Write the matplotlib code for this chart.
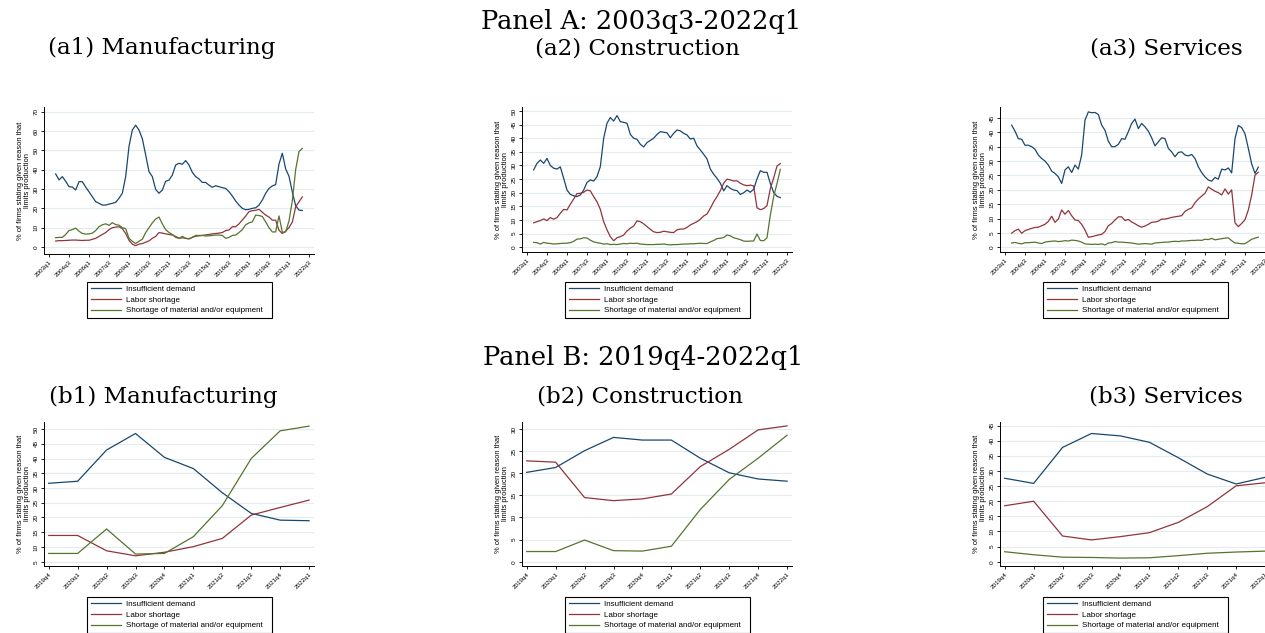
import matplotlib
matplotlib.use("Agg")
import matplotlib.pyplot as plt

# ---------------------------------------------------------------------------
# Quarterly shares of firms (%) citing each factor limiting production,
# 2003q3 - 2022q1 (75 quarters).
# ---------------------------------------------------------------------------
mfg_demand = [37.8, 34.7, 36.4, 34.0, 31.2, 31.0, 29.5, 33.8, 33.8, 31.0,
              28.6, 26.0, 23.5, 22.6, 21.7, 21.7, 22.2, 22.6, 23.1, 25.2,
              27.8, 36.4, 52.0, 60.5, 63.0, 60.5, 56.0, 47.6, 39.0, 36.4,
              29.8, 27.8, 29.5, 34.0, 34.6, 37.2, 42.4, 43.3, 42.8, 44.7,
              42.4, 38.6, 36.4, 35.2, 33.4, 33.4, 32.0, 30.9, 31.7, 31.2,
              30.7, 30.3, 28.6, 26.4, 23.8, 21.7, 20.0, 19.3, 19.5, 20.0,
              20.3, 21.7, 24.3, 27.8, 30.3, 31.6, 32.3, 42.9, 48.5, 40.4,
              36.6, 28.4, 21.4, 19.1, 18.9]
mfg_labor = [3.1, 3.3, 3.3, 3.4, 3.5, 3.6, 3.6, 3.5, 3.4, 3.5,
             3.5, 4.0, 4.5, 5.5, 6.5, 7.5, 9.0, 10.0, 10.3, 10.5,
             9.5, 7.0, 3.5, 1.5, 0.7, 1.5, 1.8, 2.5, 3.2, 4.5,
             5.5, 7.5, 7.2, 6.8, 6.5, 6.2, 5.5, 4.5, 4.8, 4.5,
             4.3, 5.0, 5.6, 5.8, 6.0, 6.3, 6.5, 6.8, 7.0, 7.2,
             7.5, 8.5, 8.8, 10.5, 10.5, 12.0, 14.0, 16.0, 18.3, 18.8,
             19.0, 19.5, 18.0, 16.5, 15.5, 13.9, 13.9, 8.7, 7.0, 8.2,
             10.1, 12.9, 20.8, 23.4, 25.9]
mfg_material = [4.8, 5.0, 5.0, 6.5, 8.5, 9.0, 9.8, 8.2, 7.0, 6.7,
                6.8, 7.2, 8.5, 10.5, 11.5, 12.0, 11.2, 12.6, 11.6, 11.3,
                10.0, 9.5, 4.5, 3.0, 1.8, 3.0, 4.0, 7.5, 10.0, 12.5,
                14.5, 15.5, 12.0, 9.0, 7.5, 6.5, 5.0, 4.5, 5.5, 4.5,
                4.2, 5.0, 6.0, 6.0, 6.0, 5.7, 5.8, 6.0, 6.2, 6.2,
                6.0, 4.5, 5.0, 6.0, 6.2, 7.5, 9.0, 11.5, 12.5, 13.0,
                16.5, 16.3, 15.8, 13.0, 10.0, 7.8, 7.8, 16.1, 7.6, 7.8,
                13.5, 24.0, 40.0, 49.4, 51.0]

con_demand = [28.4, 30.8, 32.0, 30.8, 32.6, 30.0, 29.0, 28.7, 29.5, 25.3,
              21.0, 19.4, 18.9, 18.6, 19.2, 21.0, 23.8, 24.7, 24.3, 25.9,
              29.6, 40.0, 45.5, 47.6, 46.3, 48.3, 46.1, 45.8, 45.5, 41.4,
              40.0, 39.6, 37.8, 36.8, 38.4, 39.2, 40.0, 41.4, 42.4, 42.2,
              42.0, 40.2, 41.8, 43.0, 42.7, 41.8, 41.2, 39.7, 40.0, 37.2,
              35.7, 34.1, 32.4, 28.7, 26.8, 25.3, 23.5, 20.7, 22.6, 21.6,
              21.0, 20.8, 19.4, 20.0, 21.0, 20.2, 21.3, 25.1, 28.1, 27.5,
              27.5, 23.4, 20.1, 18.7, 18.2]
con_labor = [9.0, 9.4, 9.8, 10.4, 9.8, 10.9, 10.3, 10.9, 12.5, 13.9,
             13.7, 15.8, 17.7, 19.7, 19.8, 20.2, 21.0, 20.7, 18.6, 16.7,
             13.9, 9.4, 6.4, 3.9, 2.4, 3.5, 3.9, 4.5, 6.0, 7.0,
             7.8, 9.7, 9.4, 8.6, 7.6, 6.6, 5.7, 5.4, 5.5, 5.9,
             5.7, 5.5, 5.4, 6.4, 6.7, 6.7, 7.3, 8.2, 8.8, 9.4,
             10.3, 11.5, 12.2, 14.3, 16.7, 18.6, 20.8, 23.5, 25.0, 24.7,
             24.3, 24.4, 23.5, 22.9, 22.6, 22.8, 22.5, 14.5, 13.8, 14.2,
             15.3, 21.5, 25.4, 29.8, 30.7]
con_material = [1.8, 1.7, 1.2, 1.8, 1.5, 1.4, 1.2, 1.3, 1.4, 1.5,
                1.5, 1.7, 2.2, 3.0, 3.1, 3.5, 3.4, 2.6, 2.0, 1.7,
                1.5, 1.2, 1.3, 1.0, 1.1, 1.0, 1.2, 1.4, 1.3, 1.5,
                1.4, 1.5, 1.2, 1.1, 1.0, 1.0, 1.0, 1.1, 1.1, 1.2,
                1.0, 0.9, 1.0, 1.0, 1.1, 1.2, 1.2, 1.3, 1.3, 1.4,
                1.5, 1.4, 1.4, 2.0, 2.5, 3.2, 3.3, 3.6, 4.5, 4.2,
                3.5, 3.2, 2.8, 2.3, 2.2, 2.3, 2.3, 4.9, 2.5, 2.4,
                3.5, 11.8, 18.6, 23.4, 28.6]

srv_demand = [42.5, 40.4, 37.8, 37.6, 35.5, 35.5, 35.0, 34.1, 32.1, 30.9,
              30.0, 28.6, 26.5, 25.7, 24.5, 22.2, 26.9, 28.0, 26.0, 28.6,
              27.2, 32.1, 44.2, 47.1, 46.8, 46.9, 46.2, 42.5, 40.7, 36.9,
              35.0, 35.0, 35.8, 37.8, 37.6, 40.2, 43.1, 44.6, 41.3, 43.1,
              41.9, 40.4, 38.1, 35.3, 36.7, 38.1, 37.8, 34.4, 33.2, 31.5,
              33.0, 33.2, 32.1, 31.8, 32.3, 30.9, 28.0, 26.0, 24.5, 23.4,
              23.0, 24.3, 23.7, 27.2, 26.9, 27.6, 25.9, 37.8, 42.4, 41.6,
              39.5, 34.4, 29.0, 25.7, 27.9]
srv_labor = [4.9, 5.8, 6.3, 4.9, 5.8, 6.2, 6.6, 6.9, 7.0, 7.5,
             8.0, 9.0, 10.8, 8.7, 9.8, 13.0, 11.5, 12.8, 11.0, 9.5,
             9.3, 8.0, 6.0, 3.5, 3.7, 4.0, 4.3, 4.5, 5.5, 7.5,
             8.3, 9.5, 10.6, 10.6, 9.3, 9.7, 8.8, 8.2, 7.5, 7.0,
             7.4, 8.0, 8.7, 8.8, 9.1, 9.8, 9.8, 10.1, 10.4, 10.6,
             10.8, 11.0, 12.5, 13.2, 13.7, 15.5, 16.8, 17.8, 18.8, 21.0,
             20.2, 19.5, 19.0, 18.2, 20.3, 18.5, 20.0, 8.5, 7.2, 8.3,
             9.6, 13.0, 18.2, 25.1, 26.1]
srv_material = [1.5, 1.7, 1.4, 1.2, 1.6, 1.6, 1.7, 1.8, 1.5, 1.3,
                1.8, 2.0, 2.1, 2.2, 2.0, 2.1, 2.3, 2.2, 2.5, 2.4,
                2.2, 1.8, 1.2, 1.1, 1.0, 1.1, 1.0, 1.2, 0.8, 1.5,
                1.6, 2.0, 1.8, 1.8, 1.7, 1.6, 1.5, 1.3, 1.1, 1.2,
                1.3, 1.2, 1.1, 1.5, 1.6, 1.7, 1.8, 1.8, 2.0, 2.1,
                2.0, 2.2, 2.2, 2.3, 2.4, 2.4, 2.5, 2.4, 2.8, 2.7,
                3.1, 2.6, 2.8, 3.0, 3.2, 3.3, 2.3, 1.5, 1.4, 1.2,
                1.3, 2.0, 2.8, 3.2, 3.5]

series_names = ["Insufficient demand", "Labor shortage",
                "Shortage of material and/or equipment"]
series_colors = ["#1a476f", "#90353b", "#55752f"]

# Quarter index: 0 = 2003q1; data run from 2003q3 (2) to 2022q1 (76)
long_q = list(range(2, 77))
long_ticks = list(range(0, 79, 6))
long_ticklabels = ["2003q1", "2004q3", "2006q1", "2007q3", "2009q1", "2010q3",
                   "2012q1", "2013q3", "2015q1", "2016q3", "2018q1", "2019q3",
                   "2021q1", "2022q3"]

short_labels = ["2019q4", "2020q1", "2020q2", "2020q3", "2020q4",
                "2021q1", "2021q2", "2021q3", "2021q4", "2022q1"]
n_short = len(short_labels)
short_q = list(range(n_short))

W, H = 1265, 633
fig = plt.figure(figsize=(W / 100, H / 100), dpi=100)
fig.patch.set_facecolor("white")

SANS = ["Liberation Sans", "DejaVu Sans"]
SERIF = ["DejaVu Serif"]
GRID = "#e3ecef"


def px_rect(left, top, right, bottom):
    return [left / W, 1 - bottom / H, (right - left) / W, (bottom - top) / H]


def panel(rect, legend_rect, x, data, xlim, ylim, yticks, xticks, xticklabels):
    left, top, right, bottom = rect
    ax = fig.add_axes(px_rect(*rect))
    ax.set_xlim(*xlim)
    ax.set_ylim(*ylim)
    ax.set_yticks(yticks)
    ax.set_yticklabels([str(v) for v in yticks], rotation=90, va="center",
                       fontsize=4.6, family=SANS)
    ax.set_xticks(xticks)
    ax.set_xticklabels(xticklabels, rotation=45, ha="right",
                       rotation_mode="anchor", fontsize=4.5, family=SANS)
    ax.tick_params(axis="both", length=2.5, width=0.6, pad=1.5, color="black")
    ax.grid(axis="y", color=GRID, linewidth=0.8)
    ax.set_axisbelow(True)
    for s in ("top", "right"):
        ax.spines[s].set_visible(False)
    for s in ("left", "bottom"):
        ax.spines[s].set_linewidth(0.7)
    handles = []
    for vals, col in zip(data, series_colors):
        (ln,) = ax.plot(x, vals, color=col, linewidth=0.9)
        handles.append(ln)
    ax.set_ylabel("% of firms stating given reason that\nlimits production",
                  fontsize=5.4, family=SANS, linespacing=0.95)
    ax.yaxis.set_label_coords(-13 / (right - left), 0.5)
    l, t, r, b = legend_rect
    leg = ax.legend(handles, series_names, loc="upper left",
                    bbox_to_anchor=(l / W, 1 - b / H, (r - l) / W, (b - t) / H),
                    bbox_transform=fig.transFigure, mode="expand",
                    prop={"family": SANS, "size": 5.75}, frameon=True,
                    fancybox=False, framealpha=1, edgecolor="black",
                    handlelength=3.8, handletextpad=0.65, labelspacing=0.38,
                    borderpad=0.45, borderaxespad=0)
    leg.get_frame().set_linewidth(0.8)
    return ax


long_sets = [
    (mfg_demand, mfg_labor, mfg_material),
    (con_demand, con_labor, con_material),
    (srv_demand, srv_labor, srv_material),
]
long_ylims = [(-3.6, 72.4), (-1.72, 51.45), (-1.63, 48.8)]
long_yticks = [list(range(0, 71, 10)), list(range(0, 51, 5)), list(range(0, 46, 5))]
short_ylims = [(3.54, 52.5), (-0.97, 31.65), (-1.42, 46.3)]
short_yticks = [list(range(5, 51, 5)), list(range(0, 31, 5)), list(range(0, 46, 5))]
bottom_a = [254, 252, 252]

for k in range(3):
    x0 = 44 + 478 * k
    panel((x0, 107, x0 + 270, bottom_a[k]), (x0 + 43, 282, x0 + 228, 319),
          long_q, long_sets[k], (-1.5, 79.5), long_ylims[k], long_yticks[k],
          long_ticks, long_ticklabels)
    short_data = [s[-n_short:] for s in long_sets[k]]
    panel((x0, 421.7, x0 + 270, 566), (x0 + 43, 597, x0 + 228, 634),
          short_q, short_data, (-0.163, 9.17), short_ylims[k], short_yticks[k],
          short_q, short_labels)

# Titles
fig.text(641 / W, 1 - 21 / H, "Panel A: 2003q3-2022q1", ha="center", va="center",
         fontsize=18.5, family=SERIF)
fig.text(643 / W, 1 - 357 / H, "Panel B: 2019q4-2022q1", ha="center", va="center",
         fontsize=18.5, family=SERIF)
subtitles_a = ["(a1) Manufacturing", "(a2) Construction", "(a3) Services"]
subtitles_b = ["(b1) Manufacturing", "(b2) Construction", "(b3) Services"]
centers_a = [162, 637, 1166]
centers_b = [163, 640, 1166]
for txt, cx in zip(subtitles_a, centers_a):
    fig.text(cx / W, 1 - 48 / H, txt, ha="center", va="center", fontsize=16.6,
             family=SERIF)
for txt, cx in zip(subtitles_b, centers_b):
    fig.text(cx / W, 1 - 397 / H, txt, ha="center", va="center", fontsize=16.6,
             family=SERIF)

fig.savefig("out.png", dpi=100)
